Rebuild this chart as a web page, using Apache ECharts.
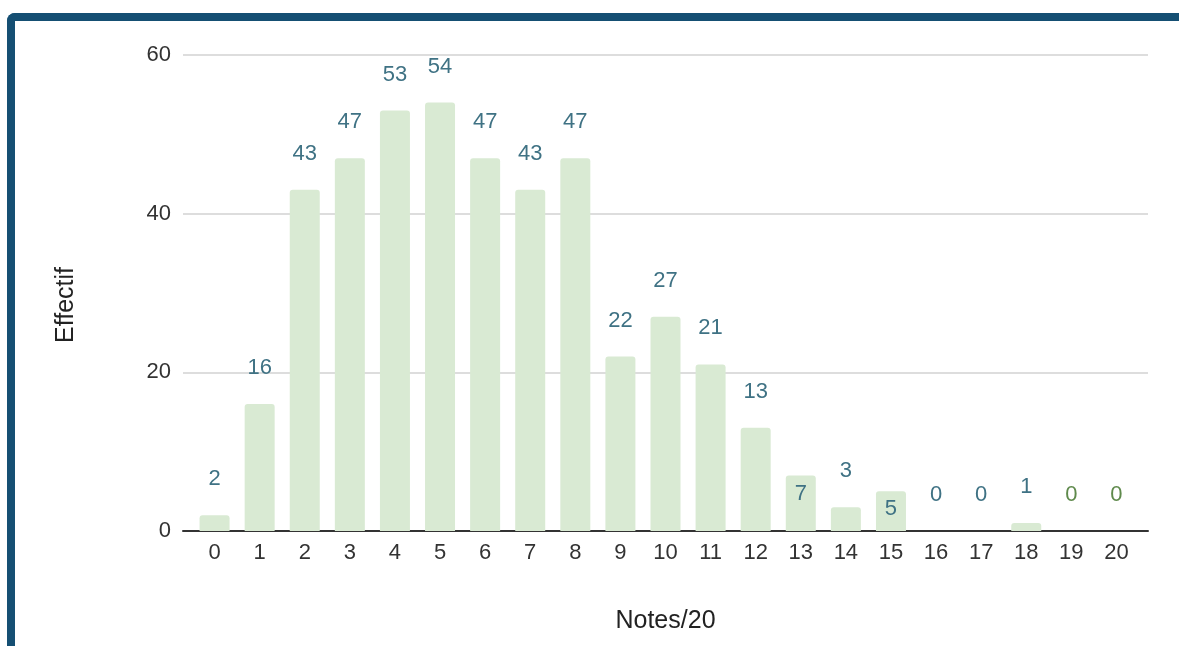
<!DOCTYPE html>
<html>
<head>
<meta charset="utf-8">
<script src="https://cdn.jsdelivr.net/npm/echarts@6/dist/echarts.min.js"></script>
<style>
  html, body { margin: 0; padding: 0; background: #ffffff; }
  #frame { position: absolute; left: 7px; top: 13px; width: 1200px; height: 700px;
    border-left: 8px solid #154f73; border-top: 8px solid #154f73; border-top-left-radius: 8px; box-sizing: border-box; }
  #chart { position: absolute; left: 0; top: 0; width: 1179px; height: 646px; }
</style>
</head>
<body>
<div id="frame"></div>
<div id="chart"></div>
<script>
const notes = [0,1,2,3,4,5,6,7,8,9,10,11,12,13,14,15,16,17,18,19,20];
const effectifs = [2,16,43,47,53,54,47,43,47,22,27,21,13,7,3,5,0,0,1,0,0];
const yTicks = [0,20,40,60];

const FONT = '"Liberation Sans", Arial, sans-serif';
const insideLabel = [13, 15];
const greenLabel = [19, 20];

const chart = echarts.init(document.getElementById('chart'), null, { renderer: 'canvas' });
const data = notes.map((n, i) => {
  const item = { value: [n, effectifs[i]] };
  const lab = {};
  if (insideLabel.includes(n)) { lab.position = 'insideTop'; lab.distance = 7; }
  if (greenLabel.includes(n)) { lab.color = '#5f8a4c'; }
  item.label = lab;
  return item;
});

chart.setOption({
  animation: false,
  grid: { left: 183, right: 31, top: 55, bottom: 115 },
  xAxis: {
    type: 'value', min: -0.7, max: 20.7,
    name: 'Notes/20', nameLocation: 'middle', nameGap: 78,
    nameTextStyle: { fontFamily: FONT, fontSize: 25, color: '#222' },
    axisLine: { show: true, onZero: false, lineStyle: { color: '#333', width: 2 } },
    axisTick: { show: false },
    splitLine: { show: false },
    axisLabel: { customValues: notes, formatter: v => String(v), fontFamily: FONT, fontSize: 22, color: '#333', margin: 11 }
  },
  yAxis: {
    type: 'value', min: 0, max: 60, interval: 20,
    name: 'Effectif', nameLocation: 'middle', nameGap: 104, nameRotate: 90,
    nameTextStyle: { fontFamily: FONT, fontSize: 25, color: '#222', padding: [0, 0, 0, -24] },
    axisLine: { show: false }, axisTick: { show: false },
    splitLine: { lineStyle: { color: '#dddddd', width: 2 } },
    axisLabel: { formatter: v => yTicks.includes(v) ? String(v) : '', fontFamily: FONT, fontSize: 22, color: '#333', margin: 12 }
  },
  series: [{
    type: 'bar',
    data: data,
    barWidth: 30,
    itemStyle: { color: '#d9ead3', borderRadius: [3, 3, 0, 0] },
    label: { show: true, position: 'top', distance: 25, fontFamily: FONT, fontSize: 22, color: '#3f7284' }
  }]
});
</script>
</body>
</html>
